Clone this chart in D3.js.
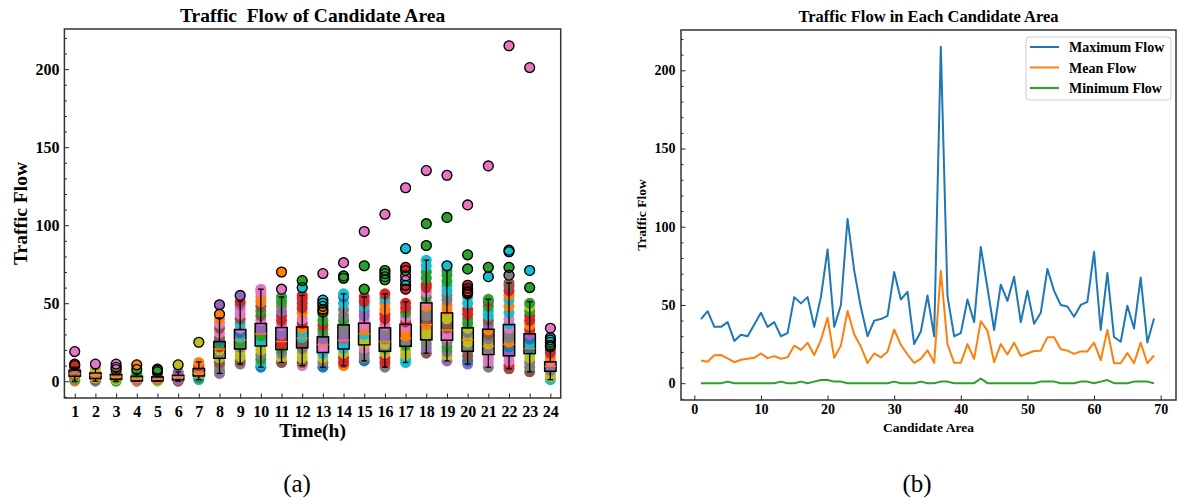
<!DOCTYPE html>
<html>
<head>
<meta charset="utf-8">
<script src="https://cdn.jsdelivr.net/npm/d3@7"></script>
<style>
  body { margin: 0; background: #fff; }
  text { font-family: "Liberation Serif", "Times New Roman", serif; }
</style>
</head>
<body>
<svg id="chart" width="1179" height="499"></svg>
<script>
// ---- data: panel (a) box plot per hour ----
const hours = [1, 2, 3, 4, 5, 6, 7, 8, 9, 10, 11, 12, 13, 14, 15, 16, 17, 18, 19, 20, 21, 22, 23, 24];
const boxQ1 = [3.2, 1.7, 1.3, 0.2, 0.2, 0.9, 3.4, 14.7, 20.7, 22.6, 20.3, 21.4, 18.4, 20.7, 23.3, 19.2, 22.4, 26.5, 26.3, 19.2, 17.1, 16.3, 17.7, 6.4];
const boxMedian = [4.9, 3.8, 2.8, 1.5, 1.3, 2.6, 5.3, 20.5, 26.3, 30.3, 25.4, 27.6, 23.5, 26.3, 30.3, 25.4, 27.6, 36.3, 32.7, 26.3, 22.4, 23.7, 20.9, 9.6];
const boxQ3 = [7, 5.3, 4.3, 3.2, 2.8, 3.8, 8.1, 25.4, 33.1, 37, 34.4, 34.8, 28.4, 36.1, 37.2, 34.2, 36.5, 50.2, 43.8, 34.2, 33.3, 36.3, 30.4, 12.4];
const whiskLo = [0, 0, 0, 0, 0, 0, 1, 5, 11, 9, 12, 10, 9, 10, 13, 9, 12, 18, 13, 11, 9, 8, 6, 1];
const whiskHi = [9, 8, 6, 5, 4.5, 6, 12.4, 40.6, 51.3, 59, 54, 55, 43.4, 56, 54, 56, 50.9, 77.6, 71, 54, 52.5, 63, 51, 20.5];

// visible points per hour as [flow, area group]; group picks the tab10 colour
const hourPoints = [
  [[0,1],[1,7],[2,2],[3,8],[4,5],[5,1],[6,8],[7,0],[8,3],[9,6],[10,3],[11,3],[19,6]],
  [[0,4],[1,5],[2,8],[3,1],[4,8],[5,7],[6,1],[8,8],[11,6]],
  [[0,2],[1,8],[2,2],[3,1],[4,7],[5,8],[6,5],[7.5,8],[9,5],[11,6]],
  [[0,3],[0.5,8],[1,4],[2,1],[3,7],[4,8],[5,2],[7.5,2],[10.5,1]],
  [[0,8],[0.5,8],[1,7],[2,1],[3,5],[4.5,4],[6,1],[7,2],[7.8,2]],
  [[0,3],[0.5,5],[1,7],[2,4],[3,1],[4,6],[5,4],[6,4],[10.5,8]],
  [[1,9],[2,2],[3,0],[4,8],[5,7],[6,8],[8,4],[9,1],[10,3],[12,1],[25,8]],
  [[5,4],[7,7],[10,7],[12,5],[15,8],[18,7],[20,8],[22,3],[24,2],[26,0],[28,5],[31,6],[34,5],[37,6],[40,1],[43,1],[49,4]],
  [[11,7],[13,5],[16,8],[19,8],[22,7],[25,2],[28,9],[31,0],[34,6],[37,9],[40,5],[43,6],[46,6],[49,4],[51,3],[55,4]],
  [[9,0],[11,9],[14,2],[17,7],[20,8],[23,8],[26,9],[29,2],[33,4],[36,4],[39,6],[42,5],[45,2],[48,5],[51,1],[54,1],[57,6],[59,6]],
  [[12,5],[15,8],[18,7],[21,2],[24,3],[27,3],[30,4],[33,4],[36,6],[39,3],[42,3],[45,4],[48,7],[51,2],[54,2],[59,6],[70,1]],
  [[10,6],[12,5],[15,8],[18,8],[21,7],[24,5],[28,9],[31,9],[34,1],[37,3],[40,6],[44,1],[47,3],[50,3],[53,3],[55,3],[60,9],[64.5,2]],
  [[9,0],[12,7],[15,8],[18,9],[21,6],[24,6],[27,4],[30,7],[33,2],[36,3],[39,2],[43,2],[44.5,1],[46,1],[48,1],[50,2],[52,9],[69,6]],
  [[10,1],[12,3],[15,3],[18,8],[21,9],[24,9],[27,4],[30,4],[33,7],[36,7],[39,2],[42,7],[46,7],[50,9],[54,0],[56,9],[66,2],[67.5,2],[76,6]],
  [[13,0],[15,7],[18,7],[21,6],[24,8],[27,8],[30,9],[33,1],[36,6],[39,6],[42,4],[45,4],[48,9],[51,3],[54,3],[59,2],[74,2],[96,6]],
  [[9,7],[12,3],[15,3],[18,8],[21,7],[24,8],[27,7],[30,4],[33,7],[36,6],[40,3],[43,3],[46,1],[50,1],[53,9],[56,3],[65,2],[67,2],[69,2],[71,2],[107,6]],
  [[12,9],[14,9],[17,8],[20,8],[23,2],[26,7],[29,1],[32,1],[35,6],[38,3],[41,6],[44,2],[47,3],[50,3],[59,3],[61.5,3],[64.5,9],[67.5,6],[71,2],[73,3],[85,9],[124,6]],
  [[18,5],[21,4],[24,7],[27,7],[30,8],[33,8],[36,1],[39,5],[42,7],[45,7],[48,1],[51,6],[54,2],[57,6],[60,3],[62,3],[66,2],[70,2],[74,9],[77.6,9],[87,2],[101,2],[135,6]],
  [[13,4],[16,8],[19,7],[22,2],[25,7],[28,6],[31,6],[34,5],[37,5],[40,8],[43,8],[46,1],[49,1],[52,7],[55,7],[58,9],[61,9],[64,2],[68,2],[71,2],[74,9],[105,2],[132,6]],
  [[11,4],[13,0],[16,5],[19,5],[22,7],[25,8],[28,8],[31,7],[34,8],[37,2],[40,2],[43,3],[46,3],[50,9],[54,9],[56,1],[57,1],[58,1],[59.5,3],[61.5,3],[72,2],[81,2],[113,6]],
  [[9,7],[12,6],[15,6],[18,6],[21,7],[24,8],[27,7],[30,5],[33,1],[36,4],[39,5],[42,9],[45,9],[48,2],[51,3],[52.5,2],[67,9],[73,2],[138,6]],
  [[8,5],[10,3],[13,6],[16,6],[19,4],[22,0],[25,1],[28,7],[31,7],[34,6],[37,9],[40,6],[44,9],[48,1],[52,9],[55,1],[58,3],[61,5],[63,5],[68,7],[73,2],[83,9],[84,9],[215,6]],
  [[6,5],[9,7],[12,7],[15,8],[18,8],[21,0],[24,9],[27,0],[30,4],[33,3],[36,1],[39,3],[42,3],[45,2],[48,8],[50,2],[60,2],[71,9],[201,6]],
  [[1,9],[3,8],[5,8],[7,7],[9,7],[11,4],[13,6],[15,1],[18,3],[20,3],[22,3],[23,2],[25,9],[26.5,2],[28,9],[34,6]]
];

// ---- data: panel (b) per candidate area (areas 1..69) ----
const maxFlow = [41, 46, 36, 36, 39, 27, 31, 30, 37.5, 45,
  36, 39, 30, 32, 55, 51, 55, 36, 55, 85.5,
  36, 50, 105, 72, 48.5, 30, 40, 41, 43, 71,
  53.5, 58.4, 25, 33, 56, 30, 215, 55.6, 30, 32,
  53.5, 39, 87, 61, 34, 63, 52.6, 68, 39, 59,
  38, 45, 73, 59, 50, 49, 42.5, 50, 52, 84,
  34, 70.5, 29.5, 26.5, 49.5, 35, 67.5, 26, 41.3];
const meanFlow = [14.5, 13.7, 17.9, 18, 15.9, 13.4, 15, 15.6, 16.2, 19,
  16, 17.3, 15.6, 16.5, 24, 21.3, 25.8, 18, 27.5, 41.8,
  16.2, 24, 46.2, 31.3, 23.3, 12.9, 19, 16.5, 20.1, 34.3,
  24.5, 18.3, 13, 15.6, 21, 13, 71.8, 24.9, 13, 13,
  25, 15.5, 39.6, 33.6, 13.4, 25, 18.3, 25.9, 17.4, 19,
  20.6, 20.8, 29.3, 29.4, 21.7, 20.8, 18.7, 20.3, 20.3, 25.9,
  14.7, 34, 12.7, 12.7, 19.3, 12.7, 25.9, 12.7, 17.7];
const minFlow = [0, 0, 0, 0, 1, 0, 0, 0, 0, 0,
  0, 0, 1, 0, 0, 1, 0, 1, 2, 2,
  1, 1, 0, 0, 0, 0, 0, 0, 0, 1,
  0, 0, 0, 1, 0, 0, 1, 1, 0, 0,
  0, 0, 3, 0, 0, 0, 0, 0, 0, 0,
  0, 1, 1, 1, 0, 0, 0, 1, 1, 0,
  1, 2, 0, 0, 0, 1, 1, 1, 0];
const seriesNames = ['Maximum Flow', 'Mean Flow', 'Minimum Flow'];
const flowTicks = [0, 50, 100, 150, 200];
const areaTicks = [0, 10, 20, 30, 40, 50, 60, 70];

const tab10 = d3.schemeCategory10;
const svg = d3.select('#chart');

// Inside-pointing ticks, no domain line (frame drawn separately)
function styleAxis(g, fontSize) {
  g.select('.domain').remove();
  g.selectAll('.tick line').attr('stroke', '#222').attr('stroke-width', 1);
  g.selectAll('.tick text')
    .style('font-size', `${fontSize}px`)
    .style('font-weight', 'bold')
    .style('font-family', '"Liberation Serif", serif')
    .attr('fill', '#000');
}

function minorTicks(scale) {
  return d3.range(-10, 226, 10).filter((v) => v % 50 !== 0);
}

// ================= Panel (a) =================
const plotA = { left: 64.4, right: 560.7, top: 29, bottom: 398 };
const xA = d3.scaleLinear().domain([0.5, 24.5]).range([plotA.left, plotA.right]);
const yA = d3.scaleLinear().domain([-10.75, 225.75]).range([plotA.bottom, plotA.top]);
const boxW = xA(1.55) - xA(1);

const gA = svg.append('g');

// scatter of every area's flow at each hour
hours.forEach((h, i) => {
  gA.append('g')
    .selectAll('circle')
    .data(hourPoints[i])
    .enter()
    .append('circle')
    .attr('cx', xA(h))
    .attr('cy', (d) => yA(d[0]))
    .attr('r', 5.5)
    .attr('fill', (d) => tab10[d[1]]);
});

// box plots drawn over the points
hours.forEach((h, i) => {
  const cx = xA(h);
  const g = gA.append('g');
  g.append('line').attr('x1', cx).attr('x2', cx)
    .attr('y1', yA(boxQ1[i])).attr('y2', yA(whiskLo[i]))
    .attr('stroke', '#000').attr('stroke-width', 1.3);
  g.append('line').attr('x1', cx).attr('x2', cx)
    .attr('y1', yA(boxQ3[i])).attr('y2', yA(whiskHi[i]))
    .attr('stroke', '#000').attr('stroke-width', 1.3);
  [whiskLo[i], whiskHi[i]].forEach((v) => {
    g.append('line').attr('x1', cx - boxW / 4).attr('x2', cx + boxW / 4)
      .attr('y1', yA(v)).attr('y2', yA(v))
      .attr('stroke', '#000').attr('stroke-width', 1.3);
  });
  g.append('rect')
    .attr('x', cx - boxW / 2).attr('width', boxW)
    .attr('y', yA(boxQ3[i])).attr('height', yA(boxQ1[i]) - yA(boxQ3[i]))
    .attr('fill', 'none').attr('stroke', '#000').attr('stroke-width', 1.5);
  g.append('line').attr('x1', cx - boxW / 2).attr('x2', cx + boxW / 2)
    .attr('y1', yA(boxMedian[i])).attr('y2', yA(boxMedian[i]))
    .attr('stroke', tab10[1]).attr('stroke-width', 1.5);
  // fliers: points beyond the whiskers
  g.selectAll('circle.flier')
    .data(hourPoints[i].filter((d) => d[0] > whiskHi[i] || d[0] < whiskLo[i]))
    .enter()
    .append('circle')
    .attr('class', 'flier')
    .attr('cx', cx)
    .attr('cy', (d) => yA(d[0]))
    .attr('r', 4.9)
    .attr('fill', 'none')
    .attr('stroke', '#000')
    .attr('stroke-width', 1.3);
});

gA.append('g')
  .attr('transform', `translate(${plotA.left},0)`)
  .call(d3.axisLeft(yA).tickValues(flowTicks).tickSize(-4.5).tickPadding(5))
  .call((g) => styleAxis(g, 16));
gA.append('g')
  .attr('transform', `translate(${plotA.left},0)`)
  .call(d3.axisLeft(yA).tickValues(minorTicks()).tickSize(-2.5).tickFormat(''))
  .call((g) => styleAxis(g, 16));
gA.append('g')
  .attr('transform', `translate(0,${plotA.bottom})`)
  .call(d3.axisBottom(xA).tickValues(hours).tickSize(-4.5).tickPadding(7.6))
  .call((g) => styleAxis(g, 16));

gA.append('rect')
  .attr('x', plotA.left).attr('y', plotA.top)
  .attr('width', plotA.right - plotA.left).attr('height', plotA.bottom - plotA.top)
  .attr('fill', 'none').attr('stroke', '#333').attr('stroke-width', 1.5);

gA.append('text')
  .attr('x', (plotA.left + plotA.right) / 2).attr('y', 22)
  .attr('text-anchor', 'middle')
  .style('white-space', 'pre')
  .style('font-size', '19.5px').style('font-weight', 'bold')
  .text('Traffic  Flow of Candidate Area');
gA.append('text')
  .attr('transform', `translate(27,${(plotA.top + plotA.bottom) / 2}) rotate(-90)`)
  .attr('text-anchor', 'middle')
  .style('font-size', '19.5px').style('font-weight', 'bold')
  .text('Traffic Flow');
gA.append('text')
  .attr('x', (plotA.left + plotA.right) / 2).attr('y', 437)
  .attr('text-anchor', 'middle')
  .style('font-size', '19.5px').style('font-weight', 'bold')
  .text('Time(h)');
gA.append('text')
  .attr('x', 297).attr('y', 492)
  .attr('text-anchor', 'middle')
  .style('font-size', '25px')
  .text('(a)');

// ================= Panel (b) =================
const plotB = { left: 681, right: 1176, top: 30, bottom: 400 };
const xB = d3.scaleLinear().domain([-2, 72.3]).range([plotB.left, plotB.right]);
const yB = d3.scaleLinear().domain([-10.75, 225.75]).range([plotB.bottom, plotB.top]);

const gB = svg.append('g');
const lineB = d3.line().x((d, i) => xB(i + 1)).y((d) => yB(d));

[maxFlow, meanFlow, minFlow].forEach((series, k) => {
  gB.append('path')
    .datum(series)
    .attr('d', lineB)
    .attr('fill', 'none')
    .attr('stroke', tab10[k])
    .attr('stroke-width', 2)
    .attr('stroke-linejoin', 'round');
});

gB.append('g')
  .attr('transform', `translate(${plotB.left},0)`)
  .call(d3.axisLeft(yB).tickValues(flowTicks).tickSize(-4.5).tickPadding(5.4))
  .call((g) => styleAxis(g, 14));
gB.append('g')
  .attr('transform', `translate(${plotB.left},0)`)
  .call(d3.axisLeft(yB).tickValues(minorTicks()).tickSize(-2.5).tickFormat(''))
  .call((g) => styleAxis(g, 14));
gB.append('g')
  .attr('transform', `translate(0,${plotB.bottom})`)
  .call(d3.axisBottom(xB).tickValues(areaTicks).tickSize(-4.5).tickPadding(4))
  .call((g) => styleAxis(g, 14));

gB.append('rect')
  .attr('x', plotB.left).attr('y', plotB.top)
  .attr('width', plotB.right - plotB.left).attr('height', plotB.bottom - plotB.top)
  .attr('fill', 'none').attr('stroke', '#333').attr('stroke-width', 1.5);

gB.append('text')
  .attr('x', (plotB.left + plotB.right) / 2).attr('y', 22)
  .attr('text-anchor', 'middle')
  .style('font-size', '16.5px').style('font-weight', 'bold')
  .text('Traffic Flow in Each Candidate Area');
gB.append('text')
  .attr('transform', `translate(646,${(plotB.top + plotB.bottom) / 2}) rotate(-90)`)
  .attr('text-anchor', 'middle')
  .style('font-size', '13.5px').style('font-weight', 'bold')
  .text('Traffic Flow');
gB.append('text')
  .attr('x', (plotB.left + plotB.right) / 2).attr('y', 432)
  .attr('text-anchor', 'middle')
  .style('font-size', '13.5px').style('font-weight', 'bold')
  .text('Candidate Area');
gB.append('text')
  .attr('x', 917).attr('y', 492)
  .attr('text-anchor', 'middle')
  .style('font-size', '25px')
  .text('(b)');

// legend
const legend = gB.append('g').attr('transform', 'translate(1026,37)');
legend.append('rect')
  .attr('width', 145).attr('height', 63).attr('rx', 3)
  .attr('fill', '#fff').attr('fill-opacity', 0.8)
  .attr('stroke', '#ccc');
seriesNames.forEach((name, k) => {
  const y = 10 + k * 20.5;
  legend.append('line')
    .attr('x1', 4).attr('x2', 33).attr('y1', y).attr('y2', y)
    .attr('stroke', tab10[k]).attr('stroke-width', 2);
  legend.append('text')
    .attr('x', 43).attr('y', y + 5)
    .style('font-size', '14px').style('font-weight', 'bold')
    .text(name);
});
</script>
</body>
</html>
